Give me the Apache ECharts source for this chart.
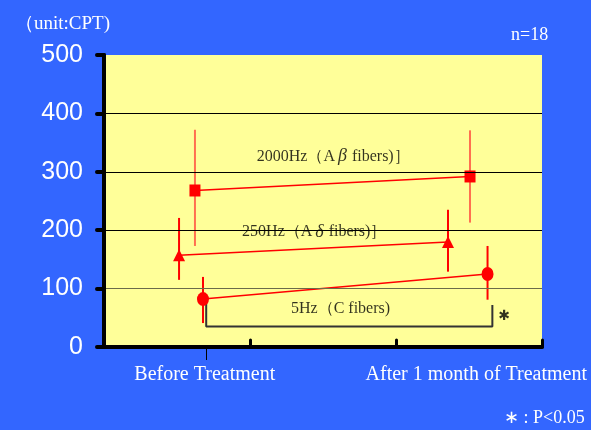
<!DOCTYPE html>
<html>
<head>
<meta charset="utf-8">
<script src="https://cdn.jsdelivr.net/npm/echarts@6/dist/echarts.min.js"></script>
<style>
html,body{margin:0;padding:0;background:#3366FF;}
#c{width:591px;height:430px;}
</style>
</head>
<body>
<div id="c"></div>
<script>
// ---- data ----
const xLabels = ['Before Treatment', 'After 1 month of Treatment'];
const yTicks = [0, 100, 200, 300, 400, 500];

// 2000Hz (A beta fibers) - square
const sqX = [0.623, 2.507];
const sqY = [268, 292];
const sqLow = [173, 213];
const sqHigh = [372, 371];

// 250Hz (A delta fibers) - triangle
const triX = [0.514, 2.356];
const triY = [157, 180];
const triLow = [115, 129];
const triHigh = [221, 235];

// 5Hz (C fibers) - circle
const cirX = [0.678, 2.627];
const cirY = [82, 125];
const cirLow = [41, 81];
const cirHigh = [120, 173];

// series labels (rich text) and their positions
const seriesNames = ['{a|2000Hz（A}{g|β}{a| fibers)］}', '{a|250Hz（A}{g|δ}{a| fibers)］}', '{a|5Hz（C fibers)}'];
const seriesNameX = [1.57, 1.44, 1.62];
const seriesNameY = [326, 197, 65];

// significance bracket
const bracketX = [0.70, 0.70, 2.66, 2.66];
const bracketY = [76, 35, 35, 72];
const starPos = [2.74, 52];

const serif = '"Liberation Serif","Times New Roman",serif';

function pts(xs, ys) { return xs.map((x, i) => [x, ys[i]]); }
function errData(xs, lo, hi) { return xs.map((x, i) => [x, lo[i], hi[i]]); }
function errSeries(xs, lo, hi, color) {
  return {
    type: 'custom',
    z: 3,
    data: errData(xs, lo, hi),
    renderItem: function (params, api) {
      const a = api.coord([api.value(0), api.value(1)]);
      const b = api.coord([api.value(0), api.value(2)]);
      return {
        type: 'line',
        shape: { x1: a[0], y1: a[1], x2: b[0], y2: b[1] },
        style: { stroke: color, lineWidth: 2 }
      };
    }
  };
}
function lineSeries(xs, ys, symbol, size) {
  return {
    type: 'line',
    z: 4,
    data: pts(xs, ys),
    symbol: symbol,
    symbolSize: size,
    showAllSymbol: true,
    lineStyle: { color: '#ff0000', width: 1.5 },
    itemStyle: { color: '#ff0000', borderWidth: 0 },
    animation: false
  };
}

const chart = echarts.init(document.getElementById('c'), null, { renderer: 'canvas' });
chart.setOption({
  backgroundColor: '#3366FF',
  animation: false,
  title: [
    { text: '（unit:CPT)', left: 10, top: 10, textStyle: { color: '#fff', fontFamily: serif, fontSize: 19, fontWeight: 'normal' } },
    { text: 'n=18', left: 506, top: 21, textStyle: { color: '#fff', fontFamily: serif, fontSize: 18, fontWeight: 'normal' } },
    { text: '∗ : P<0.05', left: 499, top: 404, textStyle: { color: '#fff', fontFamily: serif, fontSize: 18, fontWeight: 'normal' } }
  ],
  grid: { left: 104, right: 49, top: 55, bottom: 83, show: true, backgroundColor: '#FFFF99', borderWidth: 0 },
  xAxis: [
    {
      type: 'value', min: 0, max: 3, interval: 1,
      axisLine: { show: true, lineStyle: { color: '#000', width: 4, cap: 'round' } },
      axisTick: { show: true, inside: true, length: 7, lineStyle: { color: '#000', width: 3, cap: 'round' } },
      axisLabel: { show: false },
      splitLine: { show: false },
      z: 5
    },
    {
      type: 'value', min: 0, max: 3, position: 'bottom', offset: 0,
      axisLine: { show: false },
      axisTick: { show: true, customValues: [0.70], length: 13, lineStyle: { color: '#000', width: 1 } },
      axisLabel: {
        show: true, customValues: [0.69, 2.55], margin: 18,
        color: '#fff', fontFamily: serif, fontSize: 20,
        formatter: function (v) { return v < 1.5 ? xLabels[0] : xLabels[1]; }
      },
      splitLine: { show: false }
    }
  ],
  yAxis: {
    type: 'value', min: 0, max: 500, interval: 100,
    axisLine: { show: true, lineStyle: { color: '#000', width: 4, cap: 'round' } },
    axisTick: { show: true, length: 7, lineStyle: { color: '#000', width: 4, cap: 'round' } },
    axisLabel: {
      color: '#fff', fontFamily: '"Liberation Sans",Arial,sans-serif',
      fontSize: 25, margin: 21,
      customValues: yTicks,
      formatter: function (v) { return String(v); }
    },
    splitLine: { show: true, showMinLine: false, showMaxLine: false, lineStyle: { color: ['#6b6b4a', '#000', '#000', '#000'], width: 1 } },
    z: 5
  },
  series: [
    errSeries(sqX, sqLow, sqHigh, '#ff7050'),
    errSeries(triX, triLow, triHigh, '#ff0000'),
    errSeries(cirX, cirLow, cirHigh, '#ff0000'),
    lineSeries(sqX, sqY, 'rect', [11, 12]),
    lineSeries(triX, triY, 'triangle', [12, 12]),
    lineSeries(cirX, cirY, 'circle', [12, 14]),
    {
      type: 'line', z: 2,
      data: pts(bracketX, bracketY),
      symbol: 'none',
      lineStyle: { color: '#333', width: 2 }
    },
    {
      type: 'scatter', z: 6,
      symbolSize: 0,
      data: seriesNames.map((t, i) => ({ value: [seriesNameX[i], seriesNameY[i]], name: t })),
      label: {
        show: true, position: 'inside', formatter: '{b}',
        rich: {
          a: { color: '#000', fontFamily: serif, fontSize: 16 },
          g: { color: '#000', fontFamily: serif, fontSize: 18, fontStyle: 'italic', padding: [0, 1, 0, 3] }
        }
      }
    },
    {
      type: 'scatter', z: 6,
      symbolSize: 0,
      data: [{ value: starPos, name: '✱' }],
      label: { show: true, position: 'inside', formatter: '{b}', color: '#000', fontFamily: '"DejaVu Sans",sans-serif', fontSize: 14, fontWeight: 'bold' }
    }
  ]
});
</script>
</body>
</html>
